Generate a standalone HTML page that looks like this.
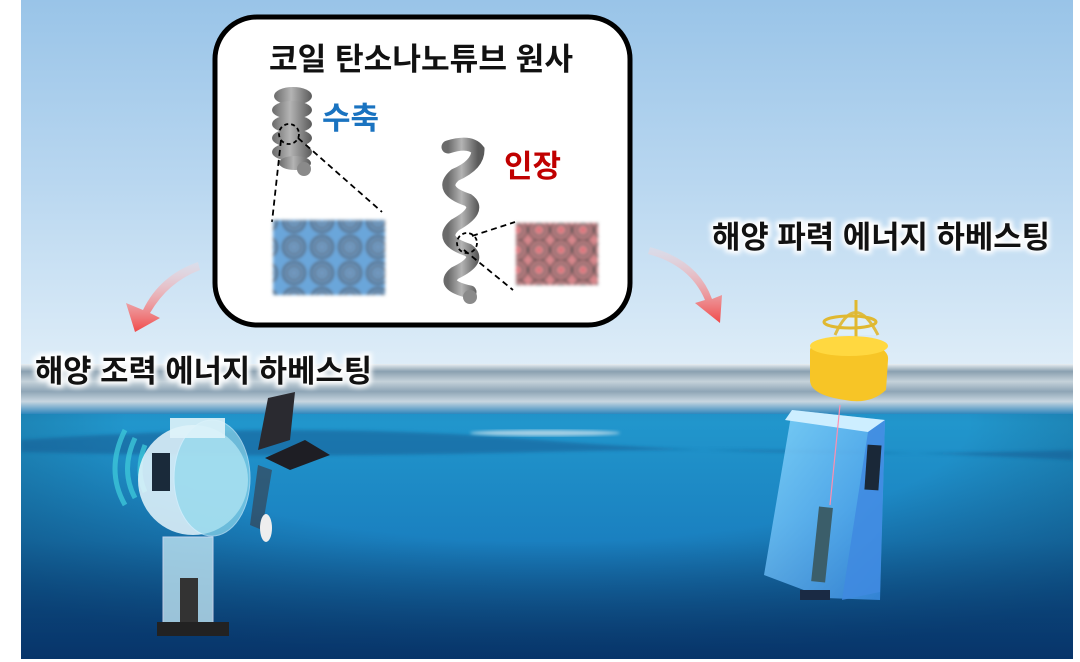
<!DOCTYPE html>
<html><head><meta charset="utf-8"><style>
html,body{margin:0;padding:0;background:#fff;}
body{width:1080px;height:662px;overflow:hidden;position:relative;font-family:"Liberation Sans","Noto Sans CJK KR",sans-serif;}
</style></head><body>
<svg width="1080" height="662" viewBox="0 0 1080 662" xmlns="http://www.w3.org/2000/svg" style="position:absolute;left:0;top:0">
<defs>
<linearGradient id="sky" x1="0" y1="0" x2="0" y2="1">
<stop offset="0" stop-color="#99c4e8"/><stop offset="0.5" stop-color="#b9d7f0"/><stop offset="1" stop-color="#deedf8"/>
</linearGradient>
<linearGradient id="sea" x1="0" y1="0" x2="0" y2="1">
<stop offset="0" stop-color="#1e7cb6"/><stop offset="0.2" stop-color="#2196cc"/><stop offset="0.6" stop-color="#1a80c0"/><stop offset="1" stop-color="#0d4a8c"/>
</linearGradient>
<radialGradient id="vig" cx="0.5" cy="0.2" r="0.8">
<stop offset="0.5" stop-color="#000" stop-opacity="0"/><stop offset="1" stop-color="#001a40" stop-opacity="0.45"/>
</radialGradient>
<linearGradient id="surf" x1="0" y1="0" x2="0" y2="1">
<stop offset="0" stop-color="#e8eef2"/><stop offset="0.15" stop-color="#8aa0b0"/><stop offset="0.35" stop-color="#c5d2da"/><stop offset="0.55" stop-color="#8ea5b6"/><stop offset="0.75" stop-color="#c8d6e0"/><stop offset="1" stop-color="#2f86bc"/>
</linearGradient>
<linearGradient id="coil" x1="0" y1="0" x2="1" y2="0">
<stop offset="0" stop-color="#6a6a6a"/><stop offset="0.45" stop-color="#b4b4b4"/><stop offset="1" stop-color="#5a5a5a"/>
</linearGradient>
<linearGradient id="arr" x1="0" y1="0" x2="0" y2="1">
<stop offset="0" stop-color="#ffd8d8" stop-opacity="0.3"/><stop offset="1" stop-color="#f04848"/>
</linearGradient>
<linearGradient id="box" x1="0" y1="0" x2="1" y2="1">
<stop offset="0" stop-color="#8fdcff"/><stop offset="1" stop-color="#3a8fe8"/>
</linearGradient>
<filter id="glow"><feGaussianBlur stdDeviation="2.5"/></filter>
<filter id="bl"><feGaussianBlur stdDeviation="1.5"/></filter>
<pattern id="rings" width="28" height="26" patternUnits="userSpaceOnUse">
<circle cx="14" cy="13" r="11" fill="none" stroke="#555" stroke-width="2"/>
<circle cx="14" cy="13" r="7" fill="none" stroke="#666" stroke-width="2"/>
<circle cx="14" cy="13" r="3" fill="none" stroke="#777" stroke-width="1.5"/>
</pattern>
<pattern id="rings2" width="22" height="20" patternUnits="userSpaceOnUse">
<circle cx="11" cy="10" r="10" fill="none" stroke="#555" stroke-width="2"/>
<circle cx="11" cy="10" r="6" fill="none" stroke="#666" stroke-width="2"/>
<circle cx="11" cy="10" r="2" fill="#e06a72"/>
</pattern>
</defs>
<rect x="21" y="0" width="1052" height="366" fill="url(#sky)"/>
<rect x="21" y="364" width="1052" height="295" fill="url(#sea)"/>
<rect x="21" y="364" width="1052" height="295" fill="url(#vig)"/>
<rect x="21" y="364" width="1052" height="50" fill="url(#surf)"/>
<path d="M21 440 Q300 420 540 440 T1073 450 L1073 460 Q800 445 540 452 T21 452Z" fill="#14598f" opacity="0.5" filter="url(#bl)"/>
<ellipse cx="545" cy="433" rx="75" ry="3" fill="#dfeaf0" opacity="0.7" filter="url(#bl)"/>

<path d="M198 262 Q160 275 143 310 L126 303 L135 332 L160 318 L150 313 Q168 282 200 270Z" fill="url(#arr)"/>
<path d="M648 254 Q690 265 705 300 L695 303 L720 323 L722 295 L712 299 Q698 260 650 247Z" fill="url(#arr)"/>

<rect x="215" y="17" width="415" height="308" rx="42" fill="#fff" stroke="#000" stroke-width="5"/>
<text x="421" y="70" font-size="31" font-weight="bold" text-anchor="middle" fill="#111" textLength="304" lengthAdjust="spacingAndGlyphs">코일 탄소나노튜브 원사</text>
<text x="322" y="129" font-size="31" font-weight="bold" fill="#1a73c0">수축</text>
<text x="504" y="177" font-size="31" font-weight="bold" fill="#c00000">인장</text>

<g fill="url(#coil)">
<ellipse cx="293" cy="96" rx="19" ry="9"/>
<ellipse cx="292" cy="110" rx="20" ry="9"/>
<ellipse cx="292" cy="124" rx="20" ry="9"/>
<ellipse cx="292" cy="138" rx="20" ry="9"/>
<ellipse cx="292" cy="152" rx="20" ry="9"/>
<ellipse cx="295" cy="163" rx="16" ry="7"/>
<circle cx="304" cy="169" r="7" fill="#8a8a8a"/>
</g>
<circle cx="289" cy="134" r="10" fill="none" stroke="#000" stroke-width="1.8" stroke-dasharray="4,3"/>
<line x1="281" y1="140" x2="272" y2="222" stroke="#000" stroke-width="1.8" stroke-dasharray="6,4"/>
<line x1="298" y1="138" x2="382" y2="212" stroke="#000" stroke-width="1.8" stroke-dasharray="6,4"/>
<g filter="url(#bl)">
<rect x="273" y="220" width="112" height="75" fill="#6aa6da"/>
<rect x="273" y="220" width="112" height="75" fill="url(#rings)"/>
</g>

<g stroke="url(#coil)" stroke-width="13" fill="none" stroke-linecap="round">
<path d="M448 147 Q470 140 478 150 Q478 165 455 175 Q438 190 468 200 Q482 210 455 225 Q438 240 468 250 Q482 260 455 273 Q440 285 470 292"/>
</g>
<circle cx="470" cy="297" r="7" fill="#8a8a8a"/>
<circle cx="467" cy="243" r="10" fill="none" stroke="#000" stroke-width="1.8" stroke-dasharray="4,3"/>
<line x1="472" y1="236" x2="515" y2="222" stroke="#000" stroke-width="1.8" stroke-dasharray="6,4"/>
<line x1="464" y1="250" x2="513" y2="290" stroke="#000" stroke-width="1.8" stroke-dasharray="6,4"/>
<g filter="url(#bl)">
<rect x="516" y="223" width="82" height="62" fill="#d8878c"/>
<rect x="516" y="223" width="82" height="62" fill="url(#rings2)"/>
</g>

<g font-size="31" font-weight="bold">
<text x="712" y="248" fill="#fff" stroke="#fff" stroke-width="6" filter="url(#glow)" textLength="338" lengthAdjust="spacingAndGlyphs">해양 파력 에너지 하베스팅</text>
<text x="712" y="248" fill="#111" textLength="338" lengthAdjust="spacingAndGlyphs">해양 파력 에너지 하베스팅</text>
<text x="35" y="382" fill="#fff" stroke="#fff" stroke-width="6" filter="url(#glow)" textLength="337" lengthAdjust="spacingAndGlyphs">해양 조력 에너지 하베스팅</text>
<text x="35" y="382" fill="#111" textLength="337" lengthAdjust="spacingAndGlyphs">해양 조력 에너지 하베스팅</text>
</g>

<g>
<path d="M125 430 Q105 470 125 505" stroke="#3cc6d8" stroke-width="5" fill="none" opacity="0.8"/>
<path d="M135 438 Q120 470 135 498" stroke="#3cc6d8" stroke-width="5" fill="none" opacity="0.8"/>
<path d="M145 445 Q135 470 145 492" stroke="#3cc6d8" stroke-width="5" fill="none" opacity="0.8"/>
<rect x="138" y="425" width="110" height="110" rx="55" fill="#e8f6fb" opacity="0.85"/>
<ellipse cx="212" cy="478" rx="38" ry="58" fill="#8fd8ec" opacity="0.7" stroke="#d0f0ff"/>
<rect x="170" y="418" width="55" height="20" fill="#dff3fa" opacity="0.9"/>
<rect x="152" y="453" width="18" height="38" fill="#1a2a3a"/>
<rect x="163" y="537" width="50" height="90" fill="#bfe4f2" opacity="0.8" stroke="#eef"/>
<rect x="180" y="578" width="18" height="45" fill="#333"/>
<rect x="157" y="622" width="72" height="14" fill="#222"/>
<path d="M258 450 L268 398 L295 392 L290 440Z" fill="#2a2a30"/>
<path d="M265 458 L305 440 L330 455 L290 470Z" fill="#1e1e24"/>
<path d="M258 465 L250 525 L262 530 L272 470Z" fill="#3a3a44" opacity="0.6"/>
<ellipse cx="266" cy="528" rx="6" ry="14" fill="#eee"/>
</g>

<g>
<path d="M835 335 Q855 290 878 335" stroke="#e0b830" stroke-width="3" fill="#dff0fa" opacity="0.9"/>
<line x1="856" y1="300" x2="856" y2="340" stroke="#e0b830" stroke-width="3"/>
<ellipse cx="850" cy="322" rx="26" ry="6" fill="none" stroke="#e0b830" stroke-width="3"/>
<path d="M810 350 Q812 335 850 340 Q890 345 888 360 L886 390 Q870 405 845 400 Q810 395 810 380Z" fill="#f7c526"/>
<ellipse cx="849" cy="346" rx="39" ry="10" fill="#ffd840"/>
<path d="M792 410 L885 420 L880 600 L825 598 L764 575Z" fill="url(#box)" opacity="0.8"/>
<path d="M792 410 L885 420 L868 432 L785 420Z" fill="#cdeeff"/>
<path d="M868 432 L885 420 L880 592 L842 600Z" fill="#3f8ae0" opacity="0.85"/>
<rect x="866" y="445" width="14" height="45" fill="#1a2838" transform="rotate(4 873 467)"/>
<rect x="815" y="507" width="14" height="75" fill="#3b5e6a" transform="rotate(6 822 545)"/>
<line x1="840" y1="405" x2="830" y2="505" stroke="#ff8fb0" stroke-width="1.2"/>
<rect x="800" y="590" width="30" height="10" fill="#1a2a44"/>
</g>
<rect x="0" y="0" width="21" height="662" fill="#fff"/>
<rect x="1073" y="0" width="7" height="662" fill="#fff"/>
<rect x="0" y="659" width="1080" height="3" fill="#fff"/>
</svg>
</body></html>
